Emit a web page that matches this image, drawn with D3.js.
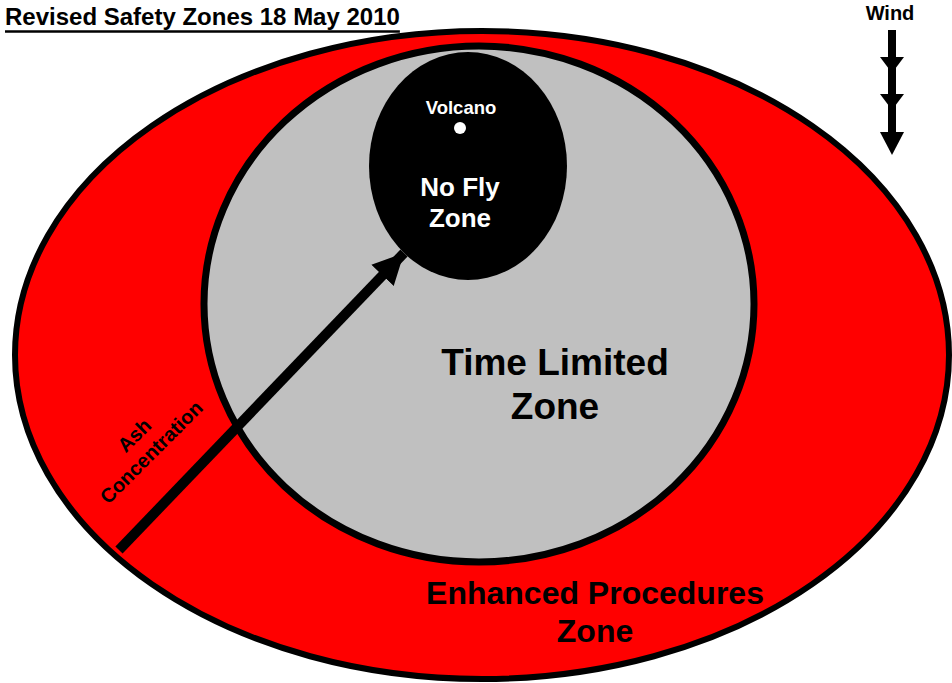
<!DOCTYPE html>
<html>
<head>
<meta charset="utf-8">
<script src="https://cdn.jsdelivr.net/npm/d3@7"></script>
<style>
  body { margin: 0; background: #fff; }
  svg { display: block; }
</style>
</head>
<body>
<div id="chart"></div>
<script>
// safety zone diagram, 18 May 2010

var title = "Revised Safety Zones 18 May 2010";
var zoneNames = ["Enhanced Procedures Zone", "Time Limited Zone", "No Fly Zone"];
var zoneLines = [["Enhanced Procedures", "Zone"], ["Time Limited", "Zone"], ["No Fly", "Zone"]];
var zoneColors = ["#ff0000", "#c0c0c0", "#000000"];
var arrowLabel = ["Ash", "Concentration"];
var windLabel = "Wind";
var volcanoLabel = "Volcano";

var font = "Liberation Sans, Arial, sans-serif";

var svg = d3.select("#chart").append("svg")
    .attr("width", 952)
    .attr("height", 683);

// arrow head marker for the ash arrow
svg.append("defs").append("marker")
    .attr("id", "head")
    .attr("viewBox", "0 0 10 10")
    .attr("refX", 10).attr("refY", 5)
    .attr("markerUnits", "userSpaceOnUse")
    .attr("markerWidth", 31).attr("markerHeight", 33)
    .attr("orient", "auto")
  .append("path")
    .attr("d", "M0,0 L10,5 L0,10 Z")
    .attr("fill", "#000");

// ellipse geometry for each zone (outer to inner)
var shapes = [
  {cx: 482, cy: 355, rx: 467, ry: 324, sw: 6},
  {cx: 479, cy: 304, rx: 275, ry: 258, sw: 7},
  {cx: 468, cy: 166, rx: 99, ry: 114, sw: 0}
];

svg.selectAll("ellipse.zone")
    .data(zoneNames)
    .enter().append("ellipse")
    .attr("class", "zone")
    .attr("cx", function(d, i) { return shapes[i].cx; })
    .attr("cy", function(d, i) { return shapes[i].cy; })
    .attr("rx", function(d, i) { return shapes[i].rx; })
    .attr("ry", function(d, i) { return shapes[i].ry; })
    .style("fill", function(d, i) { return zoneColors[i]; })
    .style("stroke", "#000")
    .style("stroke-width", function(d, i) { return shapes[i].sw; });

// ash concentration arrow
svg.append("line")
    .attr("x1", 119).attr("y1", 550)
    .attr("x2", 404).attr("y2", 253)
    .attr("stroke", "#000")
    .attr("stroke-width", 10)
    .attr("marker-end", "url(#head)");

// zone labels
var labelPos = [
  {x: 595, y: 604, size: 32, fill: "#000", gap: 38},
  {x: 555, y: 375, size: 37, fill: "#000", gap: 44},
  {x: 460, y: 196, size: 26, fill: "#fff", gap: 31}
];

zoneLines.forEach(function(lines, i) {
  var p = labelPos[i];
  svg.append("text")
      .attr("x", p.x).attr("y", p.y)
      .attr("text-anchor", "middle")
      .attr("font-family", font)
      .attr("font-weight", "bold")
      .attr("font-size", p.size + "px")
      .attr("fill", p.fill)
    .selectAll("tspan")
    .data(lines)
    .enter().append("tspan")
      .attr("x", p.x)
      .attr("dy", function(d, j) { return j ? p.gap : 0; })
      .text(function(d) { return d; });
});

// volcano
svg.append("text")
    .attr("x", 461).attr("y", 114)
    .attr("text-anchor", "middle")
    .attr("font-family", font)
    .attr("font-weight", "bold")
    .attr("font-size", "18.5px")
    .attr("fill", "#fff")
    .text(volcanoLabel);
svg.append("circle")
    .attr("cx", 460).attr("cy", 128).attr("r", 6)
    .attr("fill", "#fff");

// rotated arrow label
var ash = svg.append("g")
    .attr("transform", "translate(142,443) rotate(-45)");
ash.selectAll("text")
    .data(arrowLabel)
    .enter().append("text")
    .attr("x", 0)
    .attr("y", function(d, i) { return i ? 20 : -4; })
    .attr("text-anchor", "middle")
    .attr("font-family", font)
    .attr("font-weight", "bold")
    .attr("font-size", "20px")
    .attr("fill", "#000")
    .text(function(d) { return d; });

// title, underline drawn as its own line
var t = svg.append("text")
    .attr("x", 5).attr("y", 25)
    .attr("font-family", font)
    .attr("font-weight", "bold")
    .attr("font-size", "24px")
    .attr("fill", "#000")
    .text(title);
var tw = t.node().getComputedTextLength();
svg.append("line")
    .attr("x1", 5).attr("x2", 5 + tw)
    .attr("y1", 31.5).attr("y2", 31.5)
    .attr("stroke", "#000")
    .attr("stroke-width", 2.5);

// wind indicator
svg.append("text")
    .attr("x", 890).attr("y", 20)
    .attr("text-anchor", "middle")
    .attr("font-family", font)
    .attr("font-weight", "bold")
    .attr("font-size", "20px")
    .attr("fill", "#000")
    .text(windLabel);

svg.append("line")
    .attr("x1", 892).attr("y1", 30)
    .attr("x2", 892).attr("y2", 140)
    .attr("stroke", "#000")
    .attr("stroke-width", 8);

var windHeads = [57, 94, 132];
svg.selectAll("path.wind")
    .data(windHeads)
    .enter().append("path")
    .attr("class", "wind")
    .attr("d", function(y, i) {
      var h = i === 2 ? 23 : 16;
      return "M880," + y + " L904," + y + " L892," + (y + h) + " Z";
    })
    .attr("fill", "#000");
</script>
</body>
</html>
